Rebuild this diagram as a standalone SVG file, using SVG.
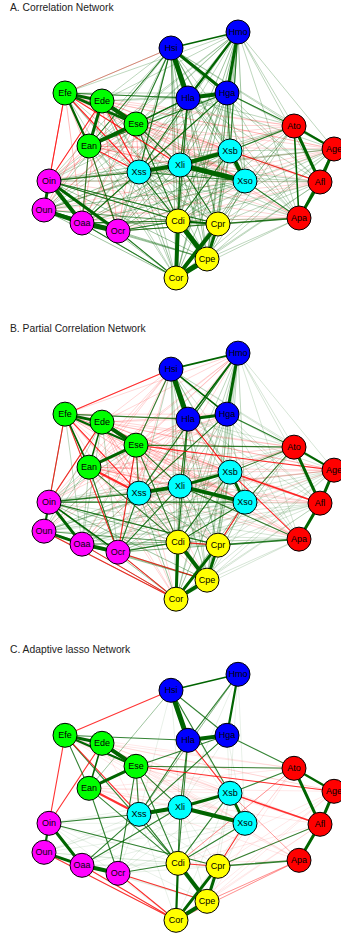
<svg xmlns="http://www.w3.org/2000/svg" xmlns:xlink="http://www.w3.org/1999/xlink" width="341" height="933" viewBox="0 0 341 933">
<style>
.t{font-family:"Liberation Sans",Arial,sans-serif;font-size:10.3px;fill:#222}
.n circle{stroke:#000;stroke-width:1}
.n text{font-family:"Liberation Sans",Arial,sans-serif;font-size:9px;text-anchor:middle;dominant-baseline:central;fill:#000}
.cH{fill:#0000ff}.cE{fill:#00ff00}.cA{fill:#ff0000}.cX{fill:#00ffff}.cO{fill:#ff00ff}.cC{fill:#ffff00}
.ed path,.ed line{fill:none;stroke-linecap:round}
.g{stroke:#006400}
.r{stroke:#ff0000}
.f0{stroke-width:1;stroke-opacity:.09}
.f1{stroke-width:1;stroke-opacity:.16}
.f2{stroke-width:1;stroke-opacity:.26}
.f3{stroke-width:1;stroke-opacity:.38}
.m{stroke-width:1.1;stroke-opacity:.8}
.w15{stroke-width:1.6}
.w2{stroke-width:2.2}
.w3{stroke-width:3}
.w4{stroke-width:4}
.w5{stroke-width:5}
</style>
<defs>
<path id="HX" d="M171 48L230 151M171 48L180 165M171 48L139 172M171 48L245 181M238 32L230 151M238 32L180 165M238 32L139 172M238 32L245 181M188 98L230 151M188 98L180 165M188 98L139 172M188 98L245 181M227 93L230 151M227 93L180 165M227 93L139 172M227 93L245 181"/>
<path id="HC" d="M171 48L178 221M171 48L218 224M171 48L207 259M171 48L176 278M238 32L178 221M238 32L218 224M238 32L207 259M238 32L176 278M188 98L178 221M188 98L218 224M188 98L207 259M188 98L176 278M227 93L178 221M227 93L218 224M227 93L207 259M227 93L176 278"/>
<path id="HO" d="M171 48L49 181M171 48L44 210M171 48L82 223M171 48L118 231M238 32L49 181M238 32L44 210M238 32L82 223M238 32L118 231M188 98L49 181M188 98L44 210M188 98L82 223M188 98L118 231M227 93L49 181M227 93L44 210M227 93L82 223M227 93L118 231"/>
<path id="HA" d="M171 48L294 126M171 48L334 149M171 48L320 182M171 48L299 218M238 32L294 126M238 32L334 149M238 32L320 182M238 32L299 218M188 98L294 126M188 98L334 149M188 98L320 182M188 98L299 218M227 93L294 126M227 93L334 149M227 93L320 182M227 93L299 218"/>
<path id="HE" d="M171 48L65 93M171 48L102 101M171 48L136 124M171 48L89 146M238 32L65 93M238 32L102 101M238 32L136 124M238 32L89 146M188 98L65 93M188 98L102 101M188 98L136 124M188 98L89 146M227 93L65 93M227 93L102 101M227 93L136 124M227 93L89 146"/>
<path id="EX" d="M65 93L230 151M65 93L180 165M65 93L139 172M65 93L245 181M102 101L230 151M102 101L180 165M102 101L139 172M102 101L245 181M136 124L230 151M136 124L180 165M136 124L139 172M136 124L245 181M89 146L230 151M89 146L180 165M89 146L139 172M89 146L245 181"/>
<path id="EC" d="M65 93L178 221M65 93L218 224M65 93L207 259M65 93L176 278M102 101L178 221M102 101L218 224M102 101L207 259M102 101L176 278M136 124L178 221M136 124L218 224M136 124L207 259M136 124L176 278M89 146L178 221M89 146L218 224M89 146L207 259M89 146L176 278"/>
<path id="EO" d="M65 93L49 181M65 93L44 210M65 93L82 223M65 93L118 231M102 101L49 181M102 101L44 210M102 101L82 223M102 101L118 231M136 124L49 181M136 124L44 210M136 124L82 223M136 124L118 231M89 146L49 181M89 146L44 210M89 146L82 223M89 146L118 231"/>
<path id="EA" d="M65 93L294 126M65 93L334 149M65 93L320 182M65 93L299 218M102 101L294 126M102 101L334 149M102 101L320 182M102 101L299 218M136 124L294 126M136 124L334 149M136 124L320 182M136 124L299 218M89 146L294 126M89 146L334 149M89 146L320 182M89 146L299 218"/>
<path id="XC" d="M230 151L178 221M230 151L218 224M230 151L207 259M230 151L176 278M180 165L178 221M180 165L218 224M180 165L207 259M180 165L176 278M139 172L178 221M139 172L218 224M139 172L207 259M139 172L176 278M245 181L178 221M245 181L218 224M245 181L207 259M245 181L176 278"/>
<path id="XO" d="M230 151L49 181M230 151L44 210M230 151L82 223M230 151L118 231M180 165L49 181M180 165L44 210M180 165L82 223M180 165L118 231M139 172L49 181M139 172L44 210M139 172L82 223M139 172L118 231M245 181L49 181M245 181L44 210M245 181L82 223M245 181L118 231"/>
<path id="XA" d="M230 151L294 126M230 151L334 149M230 151L320 182M230 151L299 218M180 165L294 126M180 165L334 149M180 165L320 182M180 165L299 218M139 172L294 126M139 172L334 149M139 172L320 182M139 172L299 218M245 181L294 126M245 181L334 149M245 181L320 182M245 181L299 218"/>
<path id="OC" d="M49 181L178 221M49 181L218 224M49 181L207 259M49 181L176 278M44 210L178 221M44 210L218 224M44 210L207 259M44 210L176 278M82 223L178 221M82 223L218 224M82 223L207 259M82 223L176 278M118 231L178 221M118 231L218 224M118 231L207 259M118 231L176 278"/>
<path id="OA" d="M49 181L294 126M49 181L334 149M49 181L320 182M49 181L299 218M44 210L294 126M44 210L334 149M44 210L320 182M44 210L299 218M82 223L294 126M82 223L334 149M82 223L320 182M82 223L299 218M118 231L294 126M118 231L334 149M118 231L320 182M118 231L299 218"/>
<path id="CA" d="M178 221L294 126M178 221L334 149M178 221L320 182M178 221L299 218M218 224L294 126M218 224L334 149M218 224L320 182M218 224L299 218M207 259L294 126M207 259L334 149M207 259L320 182M207 259L299 218M176 278L294 126M176 278L334 149M176 278L320 182M176 278L299 218"/>
</defs>
<rect width="341" height="933" fill="#fff"/>

<!-- Panel A -->
<g id="panelA">
<text class="t" x="10" y="10.8">A. Correlation Network</text>
<g id="A-connectors" class="ed">
<use href="#HO" class="g f2"/><use href="#HA" class="g f2"/><use href="#HE" class="g f2"/>
<use href="#EA" class="r f1"/><use href="#OA" class="r f1"/><use href="#XA" class="g f2"/><use href="#CA" class="g f2"/>
<use href="#EC" class="g f2"/><use href="#EO" class="r f2"/><use href="#EX" class="r f2"/>
<use href="#HX" class="g f3"/><use href="#HC" class="g f3"/><use href="#XC" class="g f3"/><use href="#XO" class="g f3"/><use href="#OC" class="g f3"/>
<line class="g m" x1="188" y1="98" x2="180" y2="165"/>
<line class="g m" x1="188" y1="98" x2="178" y2="221"/>
<line class="g m" x1="188" y1="98" x2="139" y2="172"/>
<line class="g m" x1="227" y1="93" x2="139" y2="172"/>
<line class="g m" x1="227" y1="93" x2="89" y2="146"/>
<line class="g m" x1="171" y1="48" x2="136" y2="124"/>
<line class="g m" x1="171" y1="48" x2="89" y2="146"/>
<line class="g m" x1="188" y1="98" x2="89" y2="146"/>
<line class="g m" x1="227" y1="93" x2="230" y2="151"/>
<line class="g m" x1="227" y1="93" x2="294" y2="126"/>
<line class="g m" x1="139" y1="172" x2="178" y2="221"/>
<line class="g m" x1="139" y1="172" x2="49" y2="181"/>
<line class="g m" x1="139" y1="172" x2="82" y2="223"/>
<line class="g m" x1="118" y1="231" x2="178" y2="221"/>
<line class="g m" x1="82" y1="223" x2="178" y2="221"/>
<line class="g m" x1="49" y1="181" x2="178" y2="221"/>
<line class="g m" x1="118" y1="231" x2="218" y2="224"/>
<line class="g m" x1="136" y1="124" x2="180" y2="165"/>
<line class="g m" x1="136" y1="124" x2="178" y2="221"/>
<line class="g m" x1="180" y1="165" x2="178" y2="221"/>
<line class="g m" x1="180" y1="165" x2="218" y2="224"/>
<line class="g m" x1="230" y1="151" x2="178" y2="221"/>
<line class="g m w15" x1="218" y1="224" x2="299" y2="218"/>
<line class="g m" x1="245" y1="181" x2="299" y2="218"/>
<line class="g m" x1="89" y1="146" x2="118" y2="231"/>
<line class="g m" x1="89" y1="146" x2="82" y2="223"/>
<line class="g m" x1="49" y1="181" x2="218" y2="224"/>
<line class="g m" x1="118" y1="231" x2="176" y2="278"/>
<line class="g m" x1="82" y1="223" x2="176" y2="278"/>
<line class="g m" x1="230" y1="151" x2="294" y2="126"/>
<line class="g m" x1="136" y1="124" x2="188" y2="98"/>
<line class="g m" x1="65" y1="93" x2="188" y2="98"/>
<line class="g m" x1="238" y1="32" x2="230" y2="151"/>
<line class="g m" x1="171" y1="48" x2="139" y2="172"/>
<line class="g m" x1="139" y1="172" x2="230" y2="151"/>
<line class="g m" x1="139" y1="172" x2="245" y2="181"/>
<line class="g m" x1="334" y1="149" x2="299" y2="218"/>
<line class="r f3" x1="171" y1="48" x2="65" y2="93"/>
<line class="r m" x1="65" y1="93" x2="49" y2="181"/>
<line class="r m" x1="65" y1="93" x2="139" y2="172"/>
<line class="r m" x1="102" y1="101" x2="139" y2="172"/>
<line class="r m" x1="89" y1="146" x2="139" y2="172"/>
<line class="r m" x1="102" y1="101" x2="49" y2="181"/>
<line class="r m" x1="230" y1="151" x2="320" y2="182"/>
<line class="r m" x1="65" y1="93" x2="180" y2="165"/>
<line class="g w5" x1="171" y1="48" x2="188" y2="98"/>
<line class="g w4" x1="188" y1="98" x2="227" y2="93"/>
<line class="g w3" x1="171" y1="48" x2="227" y2="93"/>
<line class="g w3" x1="238" y1="32" x2="227" y2="93"/>
<line class="g w2" x1="238" y1="32" x2="188" y2="98"/>
<line class="g w15" x1="171" y1="48" x2="238" y2="32"/>
<line class="g w3" x1="65" y1="93" x2="102" y2="101"/>
<line class="g w4" x1="102" y1="101" x2="136" y2="124"/>
<line class="g w3" x1="65" y1="93" x2="136" y2="124"/>
<line class="g w4" x1="89" y1="146" x2="136" y2="124"/>
<line class="g w3" x1="102" y1="101" x2="89" y2="146"/>
<line class="g w2" x1="65" y1="93" x2="89" y2="146"/>
<line class="g w4" x1="139" y1="172" x2="180" y2="165"/>
<line class="g w4" x1="180" y1="165" x2="230" y2="151"/>
<line class="g w5" x1="180" y1="165" x2="245" y2="181"/>
<line class="g w4" x1="230" y1="151" x2="245" y2="181"/>
<line class="g w3" x1="294" y1="126" x2="320" y2="182"/>
<line class="g w2" x1="294" y1="126" x2="334" y2="149"/>
<line class="g w3" x1="334" y1="149" x2="320" y2="182"/>
<line class="g w3" x1="320" y1="182" x2="299" y2="218"/>
<line class="g w15" x1="294" y1="126" x2="299" y2="218"/>
<line class="g w3" x1="49" y1="181" x2="44" y2="210"/>
<line class="g w4" x1="49" y1="181" x2="82" y2="223"/>
<line class="g w4" x1="44" y1="210" x2="82" y2="223"/>
<line class="g w5" x1="82" y1="223" x2="118" y2="231"/>
<line class="g w3" x1="49" y1="181" x2="118" y2="231"/>
<line class="g w2" x1="44" y1="210" x2="118" y2="231"/>
<line class="g w5" x1="178" y1="221" x2="207" y2="259"/>
<line class="g w5" x1="207" y1="259" x2="176" y2="278"/>
<line class="g w4" x1="178" y1="221" x2="176" y2="278"/>
<line class="g w4" x1="218" y1="224" x2="176" y2="278"/>
<line class="g w3" x1="218" y1="224" x2="207" y2="259"/>
<line class="g w2" x1="178" y1="221" x2="218" y2="224"/>
</g>
<g id="A-nodes">
<g id="A-Hsi" class="n"><circle class="cH" cx="171" cy="48" r="12"/><text x="171" y="48">Hsi</text></g>
<g id="A-Hmo" class="n"><circle class="cH" cx="238" cy="32" r="12"/><text x="238" y="32">Hmo</text></g>
<g id="A-Hla" class="n"><circle class="cH" cx="188" cy="98" r="12"/><text x="188" y="98">Hla</text></g>
<g id="A-Hga" class="n"><circle class="cH" cx="227" cy="93" r="12"/><text x="227" y="93">Hga</text></g>
<g id="A-Efe" class="n"><circle class="cE" cx="65" cy="93" r="12"/><text x="65" y="93">Efe</text></g>
<g id="A-Ede" class="n"><circle class="cE" cx="102" cy="101" r="12"/><text x="102" y="101">Ede</text></g>
<g id="A-Ese" class="n"><circle class="cE" cx="136" cy="124" r="12"/><text x="136" y="124">Ese</text></g>
<g id="A-Ean" class="n"><circle class="cE" cx="89" cy="146" r="12"/><text x="89" y="146">Ean</text></g>
<g id="A-Ato" class="n"><circle class="cA" cx="294" cy="126" r="12"/><text x="294" y="126">Ato</text></g>
<g id="A-Age" class="n"><circle class="cA" cx="334" cy="149" r="12"/><text x="334" y="149">Age</text></g>
<g id="A-Afl" class="n"><circle class="cA" cx="320" cy="182" r="12"/><text x="320" y="182">Afl</text></g>
<g id="A-Apa" class="n"><circle class="cA" cx="299" cy="218" r="12"/><text x="299" y="218">Apa</text></g>
<g id="A-Xsb" class="n"><circle class="cX" cx="230" cy="151" r="12"/><text x="230" y="151">Xsb</text></g>
<g id="A-Xli" class="n"><circle class="cX" cx="180" cy="165" r="12"/><text x="180" y="165">Xli</text></g>
<g id="A-Xss" class="n"><circle class="cX" cx="139" cy="172" r="12"/><text x="139" y="172">Xss</text></g>
<g id="A-Xso" class="n"><circle class="cX" cx="245" cy="181" r="12"/><text x="245" y="181">Xso</text></g>
<g id="A-Oin" class="n"><circle class="cO" cx="49" cy="181" r="12"/><text x="49" y="181">Oin</text></g>
<g id="A-Oun" class="n"><circle class="cO" cx="44" cy="210" r="12"/><text x="44" y="210">Oun</text></g>
<g id="A-Oaa" class="n"><circle class="cO" cx="82" cy="223" r="12"/><text x="82" y="223">Oaa</text></g>
<g id="A-Ocr" class="n"><circle class="cO" cx="118" cy="231" r="12"/><text x="118" y="231">Ocr</text></g>
<g id="A-Cdi" class="n"><circle class="cC" cx="178" cy="221" r="12"/><text x="178" y="221">Cdi</text></g>
<g id="A-Cpr" class="n"><circle class="cC" cx="218" cy="224" r="12"/><text x="218" y="224">Cpr</text></g>
<g id="A-Cpe" class="n"><circle class="cC" cx="207" cy="259" r="12"/><text x="207" y="259">Cpe</text></g>
<g id="A-Cor" class="n"><circle class="cC" cx="176" cy="278" r="12"/><text x="176" y="278">Cor</text></g>
</g>
</g>

<!-- Panel B -->
<g id="panelB" transform="translate(0,321.15)">
<text class="t" x="10" y="10.8">B. Partial Correlation Network</text>
<g id="B-connectors" class="ed">
<use href="#HO" class="r f1"/><use href="#HA" class="g f1"/><use href="#HE" class="r f1"/>
<use href="#EA" class="r f1"/><use href="#OA" class="g f1"/><use href="#XA" class="r f1"/><use href="#CA" class="g f1"/>
<use href="#EC" class="r f1"/><use href="#EO" class="g f2"/><use href="#EX" class="r f2"/>
<use href="#HX" class="g f2"/><use href="#HC" class="g f2"/><use href="#XC" class="g f3"/><use href="#XO" class="g f2"/><use href="#OC" class="g f3"/>
<line class="g m" x1="65" y1="93" x2="188" y2="98"/>
<line class="g m" x1="227" y1="93" x2="294" y2="126"/>
<line class="g m" x1="188" y1="98" x2="180" y2="165"/>
<line class="g m" x1="188" y1="98" x2="178" y2="221"/>
<line class="g m" x1="227" y1="93" x2="139" y2="172"/>
<line class="g m" x1="171" y1="48" x2="136" y2="124"/>
<line class="g m" x1="136" y1="124" x2="180" y2="165"/>
<line class="g m" x1="136" y1="124" x2="178" y2="221"/>
<line class="g m" x1="136" y1="124" x2="139" y2="172"/>
<line class="g m" x1="89" y1="146" x2="118" y2="231"/>
<line class="g m" x1="89" y1="146" x2="178" y2="221"/>
<line class="g m" x1="139" y1="172" x2="49" y2="181"/>
<line class="g m" x1="139" y1="172" x2="118" y2="231"/>
<line class="g m" x1="180" y1="165" x2="118" y2="231"/>
<line class="g m" x1="245" y1="181" x2="178" y2="221"/>
<line class="g m" x1="230" y1="151" x2="178" y2="221"/>
<line class="g m w15" x1="218" y1="224" x2="299" y2="218"/>
<line class="g m" x1="49" y1="181" x2="218" y2="224"/>
<line class="g m" x1="118" y1="231" x2="178" y2="221"/>
<line class="g m" x1="230" y1="151" x2="294" y2="126"/>
<line class="g m" x1="245" y1="181" x2="294" y2="126"/>
<line class="g m" x1="49" y1="181" x2="245" y2="181"/>
<line class="g m" x1="180" y1="165" x2="299" y2="218"/>
<line class="g m" x1="238" y1="32" x2="139" y2="172"/>
<line class="g m" x1="136" y1="124" x2="294" y2="126"/>
<line class="r m" x1="171" y1="48" x2="65" y2="93"/>
<line class="r m" x1="65" y1="93" x2="49" y2="181"/>
<line class="r m" x1="102" y1="101" x2="49" y2="181"/>
<line class="r m w2" x1="89" y1="146" x2="139" y2="172"/>
<line class="r m w15" x1="230" y1="151" x2="320" y2="182"/>
<line class="r m" x1="65" y1="93" x2="139" y2="172"/>
<line class="r m" x1="136" y1="124" x2="334" y2="149"/>
<line class="r m" x1="136" y1="124" x2="118" y2="231"/>
<line class="r m" x1="118" y1="231" x2="176" y2="278"/>
<line class="r m" x1="82" y1="223" x2="176" y2="278"/>
<line class="r m" x1="44" y1="210" x2="176" y2="278"/>
<line class="r m" x1="118" y1="231" x2="207" y2="259"/>
<line class="r m" x1="245" y1="181" x2="218" y2="224"/>
<line class="r m" x1="178" y1="221" x2="218" y2="224"/>
<line class="r m" x1="188" y1="98" x2="230" y2="151"/>
<line class="r m" x1="230" y1="151" x2="299" y2="218"/>
<line class="r m" x1="65" y1="93" x2="118" y2="231"/>
<line class="g w5" x1="171" y1="48" x2="188" y2="98"/>
<line class="g w3" x1="188" y1="98" x2="227" y2="93"/>
<line class="g w15" x1="171" y1="48" x2="227" y2="93"/>
<line class="g w3" x1="238" y1="32" x2="227" y2="93"/>
<line class="g w15" x1="238" y1="32" x2="188" y2="98"/>
<line class="g w15" x1="171" y1="48" x2="238" y2="32"/>
<line class="g w3" x1="65" y1="93" x2="102" y2="101"/>
<line class="g w4" x1="102" y1="101" x2="136" y2="124"/>
<line class="g w2" x1="65" y1="93" x2="136" y2="124"/>
<line class="g w3" x1="89" y1="146" x2="136" y2="124"/>
<line class="g w15" x1="102" y1="101" x2="89" y2="146"/>
<line class="g w15" x1="65" y1="93" x2="89" y2="146"/>
<line class="g w4" x1="139" y1="172" x2="180" y2="165"/>
<line class="g w3" x1="180" y1="165" x2="230" y2="151"/>
<line class="g w4" x1="180" y1="165" x2="245" y2="181"/>
<line class="g w3" x1="230" y1="151" x2="245" y2="181"/>
<line class="g w3" x1="294" y1="126" x2="320" y2="182"/>
<line class="g w2" x1="294" y1="126" x2="334" y2="149"/>
<line class="g w3" x1="334" y1="149" x2="320" y2="182"/>
<line class="g w3" x1="320" y1="182" x2="299" y2="218"/>
<line class="g w2" x1="49" y1="181" x2="44" y2="210"/>
<line class="g w3" x1="49" y1="181" x2="82" y2="223"/>
<line class="g w3" x1="44" y1="210" x2="82" y2="223"/>
<line class="g w4" x1="82" y1="223" x2="118" y2="231"/>
<line class="g w15" x1="49" y1="181" x2="118" y2="231"/>
<line class="g w4" x1="178" y1="221" x2="207" y2="259"/>
<line class="g w4" x1="207" y1="259" x2="176" y2="278"/>
<line class="g w3" x1="178" y1="221" x2="176" y2="278"/>
<line class="g w3" x1="218" y1="224" x2="176" y2="278"/>
<line class="g w3" x1="218" y1="224" x2="207" y2="259"/>
</g>
<g id="B-nodes">
<g id="B-Hsi" class="n"><circle class="cH" cx="171" cy="48" r="12"/><text x="171" y="48">Hsi</text></g>
<g id="B-Hmo" class="n"><circle class="cH" cx="238" cy="32" r="12"/><text x="238" y="32">Hmo</text></g>
<g id="B-Hla" class="n"><circle class="cH" cx="188" cy="98" r="12"/><text x="188" y="98">Hla</text></g>
<g id="B-Hga" class="n"><circle class="cH" cx="227" cy="93" r="12"/><text x="227" y="93">Hga</text></g>
<g id="B-Efe" class="n"><circle class="cE" cx="65" cy="93" r="12"/><text x="65" y="93">Efe</text></g>
<g id="B-Ede" class="n"><circle class="cE" cx="102" cy="101" r="12"/><text x="102" y="101">Ede</text></g>
<g id="B-Ese" class="n"><circle class="cE" cx="136" cy="124" r="12"/><text x="136" y="124">Ese</text></g>
<g id="B-Ean" class="n"><circle class="cE" cx="89" cy="146" r="12"/><text x="89" y="146">Ean</text></g>
<g id="B-Ato" class="n"><circle class="cA" cx="294" cy="126" r="12"/><text x="294" y="126">Ato</text></g>
<g id="B-Age" class="n"><circle class="cA" cx="334" cy="149" r="12"/><text x="334" y="149">Age</text></g>
<g id="B-Afl" class="n"><circle class="cA" cx="320" cy="182" r="12"/><text x="320" y="182">Afl</text></g>
<g id="B-Apa" class="n"><circle class="cA" cx="299" cy="218" r="12"/><text x="299" y="218">Apa</text></g>
<g id="B-Xsb" class="n"><circle class="cX" cx="230" cy="151" r="12"/><text x="230" y="151">Xsb</text></g>
<g id="B-Xli" class="n"><circle class="cX" cx="180" cy="165" r="12"/><text x="180" y="165">Xli</text></g>
<g id="B-Xss" class="n"><circle class="cX" cx="139" cy="172" r="12"/><text x="139" y="172">Xss</text></g>
<g id="B-Xso" class="n"><circle class="cX" cx="245" cy="181" r="12"/><text x="245" y="181">Xso</text></g>
<g id="B-Oin" class="n"><circle class="cO" cx="49" cy="181" r="12"/><text x="49" y="181">Oin</text></g>
<g id="B-Oun" class="n"><circle class="cO" cx="44" cy="210" r="12"/><text x="44" y="210">Oun</text></g>
<g id="B-Oaa" class="n"><circle class="cO" cx="82" cy="223" r="12"/><text x="82" y="223">Oaa</text></g>
<g id="B-Ocr" class="n"><circle class="cO" cx="118" cy="231" r="12"/><text x="118" y="231">Ocr</text></g>
<g id="B-Cdi" class="n"><circle class="cC" cx="178" cy="221" r="12"/><text x="178" y="221">Cdi</text></g>
<g id="B-Cpr" class="n"><circle class="cC" cx="218" cy="224" r="12"/><text x="218" y="224">Cpr</text></g>
<g id="B-Cpe" class="n"><circle class="cC" cx="207" cy="259" r="12"/><text x="207" y="259">Cpe</text></g>
<g id="B-Cor" class="n"><circle class="cC" cx="176" cy="278" r="12"/><text x="176" y="278">Cor</text></g>
</g>
</g>

<!-- Panel C -->
<g id="panelC" transform="translate(0,642.3)">
<text class="t" x="10" y="10.8">C. Adaptive lasso Network</text>
<g id="C-connectors" class="ed">
<use href="#HX" class="g f0"/><use href="#XC" class="g f0"/><use href="#XO" class="g f0"/><use href="#OC" class="g f0"/><use href="#EX" class="r f0"/><use href="#EA" class="r f0"/><use href="#CA" class="r f0"/>
<line class="g m" x1="65" y1="93" x2="188" y2="98"/>
<line class="g m" x1="227" y1="93" x2="294" y2="126"/>
<line class="g m" x1="188" y1="98" x2="180" y2="165"/>
<line class="g m" x1="188" y1="98" x2="178" y2="221"/>
<line class="g m" x1="188" y1="98" x2="139" y2="172"/>
<line class="g m" x1="227" y1="93" x2="139" y2="172"/>
<line class="g m" x1="227" y1="93" x2="136" y2="124"/>
<line class="g f3" x1="238" y1="32" x2="139" y2="172"/>
<line class="g f3" x1="171" y1="48" x2="89" y2="146"/>
<line class="g m" x1="136" y1="124" x2="139" y2="172"/>
<line class="g m" x1="136" y1="124" x2="180" y2="165"/>
<line class="g m" x1="136" y1="124" x2="178" y2="221"/>
<line class="g m" x1="136" y1="124" x2="118" y2="231"/>
<line class="g m" x1="89" y1="146" x2="118" y2="231"/>
<line class="g m" x1="89" y1="146" x2="178" y2="221"/>
<line class="g m" x1="139" y1="172" x2="49" y2="181"/>
<line class="g m" x1="139" y1="172" x2="82" y2="223"/>
<line class="g m" x1="139" y1="172" x2="178" y2="221"/>
<line class="g m" x1="180" y1="165" x2="178" y2="221"/>
<line class="g m" x1="180" y1="165" x2="82" y2="223"/>
<line class="g m" x1="230" y1="151" x2="178" y2="221"/>
<line class="g m" x1="245" y1="181" x2="178" y2="221"/>
<line class="g m" x1="118" y1="231" x2="178" y2="221"/>
<line class="g m" x1="49" y1="181" x2="218" y2="224"/>
<line class="g m w15" x1="218" y1="224" x2="299" y2="218"/>
<line class="g m" x1="218" y1="224" x2="320" y2="182"/>
<line class="g m" x1="230" y1="151" x2="294" y2="126"/>
<line class="g m" x1="136" y1="124" x2="294" y2="126"/>
<line class="g m" x1="65" y1="93" x2="178" y2="221"/>
<line class="g m" x1="171" y1="48" x2="230" y2="151"/>
<line class="r m" x1="171" y1="48" x2="65" y2="93"/>
<line class="r m" x1="65" y1="93" x2="49" y2="181"/>
<line class="r m" x1="102" y1="101" x2="49" y2="181"/>
<line class="r m w2" x1="89" y1="146" x2="139" y2="172"/>
<line class="r m w15" x1="230" y1="151" x2="320" y2="182"/>
<line class="r m" x1="65" y1="93" x2="139" y2="172"/>
<line class="r m" x1="136" y1="124" x2="334" y2="149"/>
<line class="r m" x1="188" y1="98" x2="230" y2="151"/>
<line class="r m" x1="118" y1="231" x2="176" y2="278"/>
<line class="r m" x1="82" y1="223" x2="176" y2="278"/>
<line class="r m" x1="44" y1="210" x2="176" y2="278"/>
<line class="r m" x1="118" y1="231" x2="207" y2="259"/>
<line class="r m" x1="178" y1="221" x2="218" y2="224"/>
<line class="r m" x1="245" y1="181" x2="218" y2="224"/>
<line class="r f3" x1="207" y1="259" x2="299" y2="218"/>
<line class="r f3" x1="176" y1="278" x2="299" y2="218"/>
<line class="r f3" x1="178" y1="221" x2="294" y2="126"/>
<line class="r f3" x1="230" y1="151" x2="299" y2="218"/>
<line class="g w5" x1="171" y1="48" x2="188" y2="98"/>
<line class="g w4" x1="188" y1="98" x2="227" y2="93"/>
<line class="g m" x1="171" y1="48" x2="227" y2="93"/>
<line class="g w2" x1="238" y1="32" x2="227" y2="93"/>
<line class="g m" x1="238" y1="32" x2="188" y2="98"/>
<line class="g w15" x1="171" y1="48" x2="238" y2="32"/>
<line class="g w3" x1="65" y1="93" x2="102" y2="101"/>
<line class="g w4" x1="102" y1="101" x2="136" y2="124"/>
<line class="g w2" x1="65" y1="93" x2="136" y2="124"/>
<line class="g w3" x1="89" y1="146" x2="136" y2="124"/>
<line class="g w15" x1="102" y1="101" x2="89" y2="146"/>
<line class="g m" x1="65" y1="93" x2="89" y2="146"/>
<line class="g w4" x1="139" y1="172" x2="180" y2="165"/>
<line class="g w3" x1="180" y1="165" x2="230" y2="151"/>
<line class="g w4" x1="180" y1="165" x2="245" y2="181"/>
<line class="g w3" x1="230" y1="151" x2="245" y2="181"/>
<line class="g w3" x1="294" y1="126" x2="320" y2="182"/>
<line class="g w2" x1="294" y1="126" x2="334" y2="149"/>
<line class="g w3" x1="334" y1="149" x2="320" y2="182"/>
<line class="g w3" x1="320" y1="182" x2="299" y2="218"/>
<line class="g w2" x1="49" y1="181" x2="44" y2="210"/>
<line class="g w3" x1="49" y1="181" x2="82" y2="223"/>
<line class="g w3" x1="44" y1="210" x2="82" y2="223"/>
<line class="g w4" x1="82" y1="223" x2="118" y2="231"/>
<line class="g w4" x1="178" y1="221" x2="207" y2="259"/>
<line class="g w4" x1="207" y1="259" x2="176" y2="278"/>
<line class="g w2" x1="178" y1="221" x2="176" y2="278"/>
<line class="g w3" x1="218" y1="224" x2="176" y2="278"/>
<line class="g w3" x1="218" y1="224" x2="207" y2="259"/>
</g>
<g id="C-nodes">
<g id="C-Hsi" class="n"><circle class="cH" cx="171" cy="48" r="12"/><text x="171" y="48">Hsi</text></g>
<g id="C-Hmo" class="n"><circle class="cH" cx="238" cy="32" r="12"/><text x="238" y="32">Hmo</text></g>
<g id="C-Hla" class="n"><circle class="cH" cx="188" cy="98" r="12"/><text x="188" y="98">Hla</text></g>
<g id="C-Hga" class="n"><circle class="cH" cx="227" cy="93" r="12"/><text x="227" y="93">Hga</text></g>
<g id="C-Efe" class="n"><circle class="cE" cx="65" cy="93" r="12"/><text x="65" y="93">Efe</text></g>
<g id="C-Ede" class="n"><circle class="cE" cx="102" cy="101" r="12"/><text x="102" y="101">Ede</text></g>
<g id="C-Ese" class="n"><circle class="cE" cx="136" cy="124" r="12"/><text x="136" y="124">Ese</text></g>
<g id="C-Ean" class="n"><circle class="cE" cx="89" cy="146" r="12"/><text x="89" y="146">Ean</text></g>
<g id="C-Ato" class="n"><circle class="cA" cx="294" cy="126" r="12"/><text x="294" y="126">Ato</text></g>
<g id="C-Age" class="n"><circle class="cA" cx="334" cy="149" r="12"/><text x="334" y="149">Age</text></g>
<g id="C-Afl" class="n"><circle class="cA" cx="320" cy="182" r="12"/><text x="320" y="182">Afl</text></g>
<g id="C-Apa" class="n"><circle class="cA" cx="299" cy="218" r="12"/><text x="299" y="218">Apa</text></g>
<g id="C-Xsb" class="n"><circle class="cX" cx="230" cy="151" r="12"/><text x="230" y="151">Xsb</text></g>
<g id="C-Xli" class="n"><circle class="cX" cx="180" cy="165" r="12"/><text x="180" y="165">Xli</text></g>
<g id="C-Xss" class="n"><circle class="cX" cx="139" cy="172" r="12"/><text x="139" y="172">Xss</text></g>
<g id="C-Xso" class="n"><circle class="cX" cx="245" cy="181" r="12"/><text x="245" y="181">Xso</text></g>
<g id="C-Oin" class="n"><circle class="cO" cx="49" cy="181" r="12"/><text x="49" y="181">Oin</text></g>
<g id="C-Oun" class="n"><circle class="cO" cx="44" cy="210" r="12"/><text x="44" y="210">Oun</text></g>
<g id="C-Oaa" class="n"><circle class="cO" cx="82" cy="223" r="12"/><text x="82" y="223">Oaa</text></g>
<g id="C-Ocr" class="n"><circle class="cO" cx="118" cy="231" r="12"/><text x="118" y="231">Ocr</text></g>
<g id="C-Cdi" class="n"><circle class="cC" cx="178" cy="221" r="12"/><text x="178" y="221">Cdi</text></g>
<g id="C-Cpr" class="n"><circle class="cC" cx="218" cy="224" r="12"/><text x="218" y="224">Cpr</text></g>
<g id="C-Cpe" class="n"><circle class="cC" cx="207" cy="259" r="12"/><text x="207" y="259">Cpe</text></g>
<g id="C-Cor" class="n"><circle class="cC" cx="176" cy="278" r="12"/><text x="176" y="278">Cor</text></g>
</g>
</g>
</svg>
